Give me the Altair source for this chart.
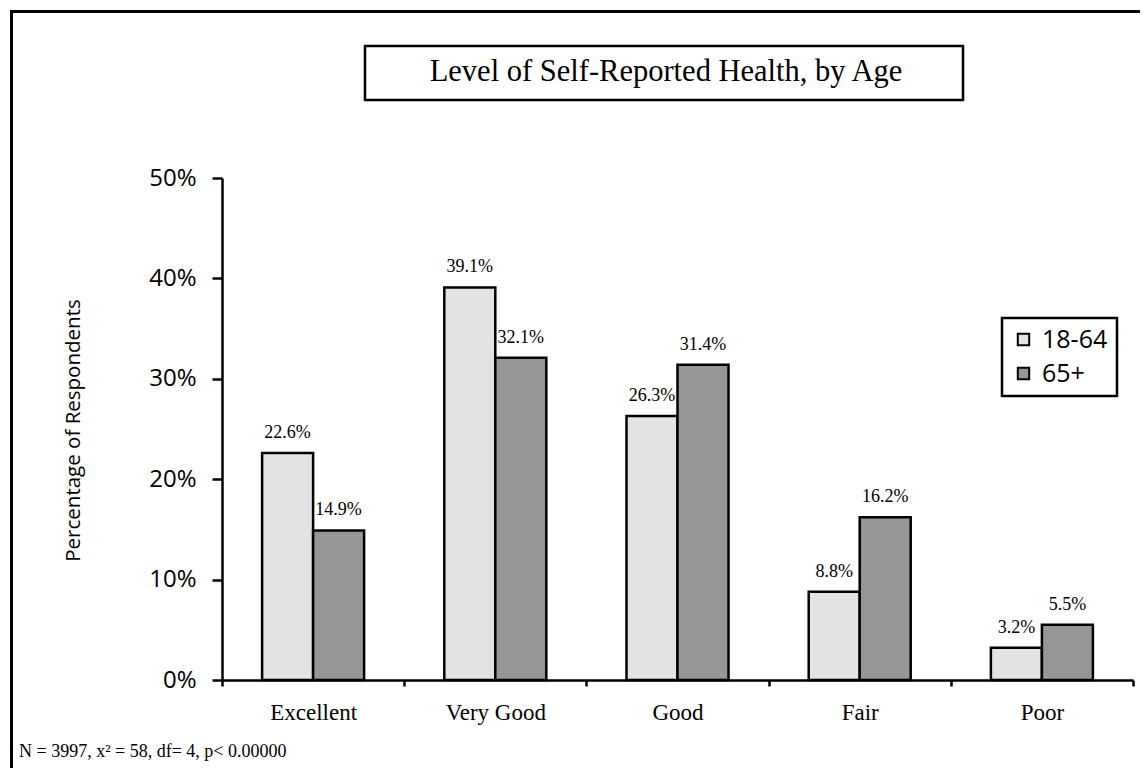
import altair as alt
import pandas as pd

categories = ["Excellent", "Very Good", "Good", "Fair", "Poor"]
groups = ["18-64", "65+"]
age_18_64 = [22.6, 39.1, 26.3, 8.8, 3.2]
age_65_plus = [14.9, 32.1, 31.4, 16.2, 5.5]
y_ticks = [0, 10, 20, 30, 40, 50]
title_text = "Level of Self-Reported Health, by Age"
footnote = "N = 3997, x\u00b2 = 58, df= 4, p< 0.00000"
y_title = "Percentage of Respondents"

rows = []
for c, a, b in zip(categories, age_18_64, age_65_plus):
    rows.append({"cat": c, "grp": groups[0], "val": a, "lab": f"{a:.1f}%"})
    rows.append({"cat": c, "grp": groups[1], "val": b, "lab": f"{b:.1f}%"})
df = pd.DataFrame(rows)

SANS = "Open Sans"
SERIF = "Liberation Serif"

x_enc = alt.X("cat:N", sort=categories,
              scale=alt.Scale(paddingInner=0, paddingOuter=0),
              axis=alt.Axis(title=None, labelAngle=0, tickBand="extent",
                            labelFont=SERIF, labelFontSize=23, labelColor="black",
                            labelPadding=15, tickSize=6, tickWidth=2.5, tickColor="black",
                            domainColor="black", domainWidth=2.5))
xoff_enc = alt.XOffset("grp:N", sort=groups,
                       scale=alt.Scale(paddingInner=0, paddingOuter=0.786))
y_enc = alt.Y("val:Q", scale=alt.Scale(domain=[0, 50], nice=False),
              axis=alt.Axis(values=y_ticks, labelExpr="datum.value + '%'",
                            title=y_title, titleFont=SANS, titleFontSize=20.5,
                            titleFontWeight="normal", titleColor="black",
                            titleX=-149, titleY=252, titleAngle=270,
                            titleAlign="center", titleBaseline="middle",
                            labelFont=SANS, labelFontSize=24, labelColor="black",
                            labelPadding=16, tickSize=10, tickWidth=2.5, tickColor="black",
                            domainColor="black", domainWidth=2.5, grid=False))

bars = alt.Chart(df).mark_bar(stroke="black", strokeWidth=2.5).encode(
    x=x_enc, xOffset=xoff_enc, y=y_enc,
    fill=alt.Fill("grp:N", sort=groups,
                  scale=alt.Scale(domain=groups, range=["#E3E3E3", "#969696"]),
                  legend=alt.Legend(title=None, orient="none", legendX=780, legendY=140,
                                    strokeColor="black", fillColor="white",
                                    padding=9, symbolType="square", symbolSize=130,
                                    symbolStrokeColor="black", symbolStrokeWidth=2,
                                    labelFont=SANS, labelFontSize=25, labelColor="black",
                                    labelOffset=6)),
)

labels = alt.Chart(df).mark_text(font=SERIF, fontSize=18, color="black", dy=-15,
                                 baseline="alphabetic").encode(
    x=alt.X("cat:N", sort=categories), xOffset=alt.XOffset("grp:N", sort=groups),
    y="val:Q", text="lab:N")

one = alt.Data(values=[{"k": 1}])

frame = alt.Chart(one).mark_rect(fill=None, stroke="black", strokeWidth=3).encode(
    x=alt.value(-210.5), x2=alt.value(1000), y=alt.value(-166.5), y2=alt.value(700))

title_box = alt.Chart(one).mark_rect(fill="white", stroke="black", strokeWidth=2.5).encode(
    x=alt.value(143), x2=alt.value(741), y=alt.value(-132), y2=alt.value(-78))

title = alt.Chart(one).mark_text(font=SERIF, fontSize=30.5, color="black",
                                 align="center", baseline="middle").encode(
    x=alt.value(444), y=alt.value(-106), text=alt.value(title_text))

foot = alt.Chart(one).mark_text(font=SERIF, fontSize=18, color="black",
                                align="left", baseline="middle").encode(
    x=alt.value(-203), y=alt.value(574), text=alt.value(footnote))

chart = alt.layer(frame, title_box, title, bars, labels, foot).properties(
    width=911, height=502,
    autosize=alt.AutoSizeParams(type="none"),
    padding={"left": 214, "top": 170, "right": 7, "bottom": 88},
    background="white",
).configure_view(stroke=None).configure_legend(strokeWidth=2.5, rowPadding=8)

chart.save("out.html", embed_options={"renderer": "svg", "actions": False})
